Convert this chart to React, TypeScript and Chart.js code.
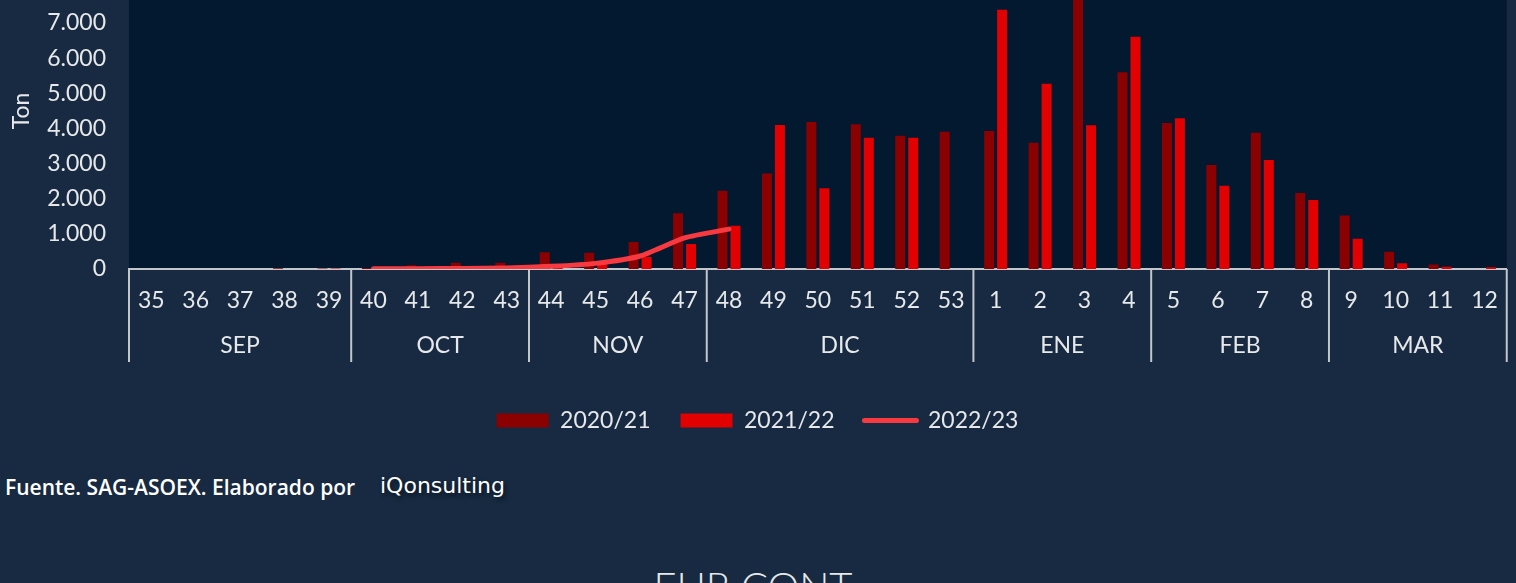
import React, { useEffect, useRef } from 'react';
import { Chart, registerables } from 'chart.js';

Chart.register(...registerables);

// ---- data ----
const weeks = ['35', '36', '37', '38', '39', '40', '41', '42', '43', '44', '45', '46', '47', '48', '49', '50', '51', '52', '53', '1', '2', '3', '4', '5', '6', '7', '8', '9', '10', '11', '12'];
const months = ['SEP', 'OCT', 'NOV', 'DIC', 'ENE', 'FEB', 'MAR'];
const weeksPerMonth = [5, 4, 4, 6, 4, 4, 4];
const seriesNames = ['2020/21', '2021/22', '2022/23'];
const season2020 = [0, 0, 0, 20, 15, 30, 110, 180, 180, 474, 465, 768, 1585, 2225, 2720, 4185, 4117, 3794, 3908, 3927, 3595, 7900, 5597, 4155, 2960, 3880, 2163, 1520, 494, 128, 0];
const season2021 = [0, 0, 0, 0, 15, 10, 20, 30, 40, 60, 180, 341, 711, 1230, 4098, 2296, 3737, 3737, 0, 7380, 5274, 4089, 6611, 4288, 2371, 3102, 1964, 863, 166, 63, 50];
const season2022 = [null, null, null, null, null, 5, 10, 15, 30, 75, 160, 370, 885, 1135, null, null, null, null, null, null, null, null, null, null, null, null, null, null, null, null, null];
const yMax = 9000;
const yStep = 1000;

// ---- styles ----
const PAGE_BG = '#172a41';
const PLOT_BG = '#021930';
const TEXT = '#e6e8ea';
const AXIS = '#c3c7cc';
const DARK_RED = '#8b0000';
const RED = '#e20000';
const LINE_RED = '#f83a40';
const FONT = 'Lato, "Noto Sans", sans-serif';

const fmt = (v: number) => String(Math.round(v)).replace(/\B(?=(\d{3})+(?!\d))/g, '.');

const groupAxisPlugin = {
  id: 'groupAxis',
  beforeDraw(chart: any) {
    const { ctx, chartArea: a } = chart;
    ctx.save();
    ctx.fillStyle = PLOT_BG;
    ctx.fillRect(a.left, a.top, a.right - a.left, a.bottom - a.top);
    ctx.restore();
  },
  afterDraw(chart: any) {
    const { ctx, chartArea: a } = chart;
    const xs = chart.scales.x;
    const half = (xs.getPixelForValue(1) - xs.getPixelForValue(0)) / 2;
    const lineBottom = a.bottom + 93;
    ctx.save();
    ctx.strokeStyle = AXIS;
    ctx.lineWidth = 2;
    ctx.fillStyle = TEXT;
    ctx.font = `23px ${FONT}`;
    ctx.textAlign = 'center';
    ctx.textBaseline = 'middle';
    let start = 0;
    const drawSep = (px: number) => {
      ctx.beginPath();
      ctx.moveTo(px, a.bottom);
      ctx.lineTo(px, lineBottom);
      ctx.stroke();
    };
    drawSep(xs.getPixelForValue(0) - half);
    weeksPerMonth.forEach((n, i) => {
      const l = xs.getPixelForValue(start) - half;
      const r = xs.getPixelForValue(start + n - 1) + half;
      drawSep(r);
      ctx.fillText(months[i], (l + r) / 2, a.bottom + 77);
      start += n;
    });
    ctx.restore();
  },
};

function ChartView() {
  const ref = useRef<HTMLCanvasElement | null>(null);
  useEffect(() => {
    if (!ref.current) return;
    const chart = new Chart(ref.current, {
      type: 'bar',
      data: {
        labels: weeks,
        datasets: [
          {
            type: 'bar',
            label: seriesNames[0],
            data: season2020,
            backgroundColor: DARK_RED,
            categoryPercentage: 0.585,
            barPercentage: 0.77,
            order: 2,
          },
          {
            type: 'bar',
            label: seriesNames[1],
            data: season2021,
            backgroundColor: RED,
            categoryPercentage: 0.585,
            barPercentage: 0.77,
            order: 2,
          },
          {
            type: 'line',
            label: seriesNames[2],
            data: season2022 as any,
            borderColor: LINE_RED,
            backgroundColor: LINE_RED,
            borderWidth: 5,
            pointRadius: 0,
            tension: 0.2,
            borderCapStyle: 'round',
            borderJoinStyle: 'round',
            order: 0,
          } as any,
        ],
      },
      options: {
        animation: false,
        responsive: false,
        maintainAspectRatio: false,
        layout: { padding: { top: 32, right: 9, left: 8, bottom: 0 } },
        scales: {
          x: {
            grid: { display: false, drawTicks: false },
            border: { display: true, color: AXIS, width: 2 },
            ticks: {
              color: TEXT,
              font: { family: FONT, size: 23 },
              padding: 18,
              maxRotation: 0,
              autoSkip: false,
            },
            afterFit(scale: any) {
              scale.height = 110;
            },
          },
          y: {
            min: 0,
            max: yMax,
            grid: { display: false, drawTicks: false },
            border: { display: false },
            ticks: {
              stepSize: yStep,
              color: TEXT,
              font: { family: FONT, size: 23 },
              padding: 23,
              callback: (v: any) => fmt(Number(v)),
            },
            title: {
              display: true,
              text: 'Ton',
              color: TEXT,
              font: { family: FONT, size: 23 },
              padding: { top: 0, bottom: 0 },
            },
            afterFit(scale: any) {
              scale.width = 121;
            },
          },
        },
        plugins: {
          legend: {
            position: 'bottom',
            labels: {
              color: TEXT,
              font: { family: FONT, size: 23 },
              usePointStyle: true,
              pointStyleWidth: 52,
              boxHeight: 14,
              padding: 30,
              sort: (a: any, b: any) => a.datasetIndex - b.datasetIndex,
              generateLabels: (c: any) => {
                const items = (Chart.defaults.plugins.legend.labels as any).generateLabels(c);
                return items.map((it: any) => {
                  if (it.datasetIndex === 2) {
                    return { ...it, pointStyle: 'line', strokeStyle: LINE_RED, fillStyle: LINE_RED, lineWidth: 5, lineCap: 'round' };
                  }
                  const col = it.datasetIndex === 0 ? DARK_RED : RED;
                  return { ...it, pointStyle: 'rect', fillStyle: col, strokeStyle: col, lineWidth: 0 };
                });
              },
            },
          },
          tooltip: { enabled: false },
        },
      },
      plugins: [groupAxisPlugin],
    } as any);
    return () => chart.destroy();
  }, []);
  return (
    <canvas
      ref={ref}
      width={1516}
      height={526}
      style={{ position: 'absolute', left: 0, top: -84, width: 1516, height: 526 }}
    />
  );
}

export default function App() {
  return (
    <div
      style={{
        position: 'fixed',
        left: 0,
        top: 0,
        width: 1516,
        height: 583,
        background: PAGE_BG,
        overflow: 'hidden',
      }}
    >
      <ChartView />
      <div
        style={{
          position: 'absolute',
          left: 5,
          top: 474,
          fontFamily: '"Open Sans", Lato, sans-serif',
          fontWeight: 600,
          fontSize: 21,
          lineHeight: '26px',
          color: '#ffffff',
          whiteSpace: 'nowrap',
        }}
      >
        Fuente. SAG-ASOEX. Elaborado por
      </div>
      <div
        style={{
          position: 'absolute',
          left: 380,
          top: 472,
          fontFamily: '"DejaVu Sans", sans-serif',
          fontWeight: 400,
          fontSize: 22,
          lineHeight: '28px',
          color: '#ffffff',
          textShadow: '2px 3px 4px rgba(0,0,0,0.55)',
          whiteSpace: 'nowrap',
        }}
      >
        iQonsulting
      </div>
      <div
        style={{
          position: 'absolute',
          left: 0,
          width: 1506,
          top: 562,
          textAlign: 'center',
          fontFamily: FONT,
          fontWeight: 300,
          fontSize: 40,
          lineHeight: '48px',
          color: TEXT,
          whiteSpace: 'nowrap',
        }}
      >
        EUR CONT
      </div>
    </div>
  );
}
